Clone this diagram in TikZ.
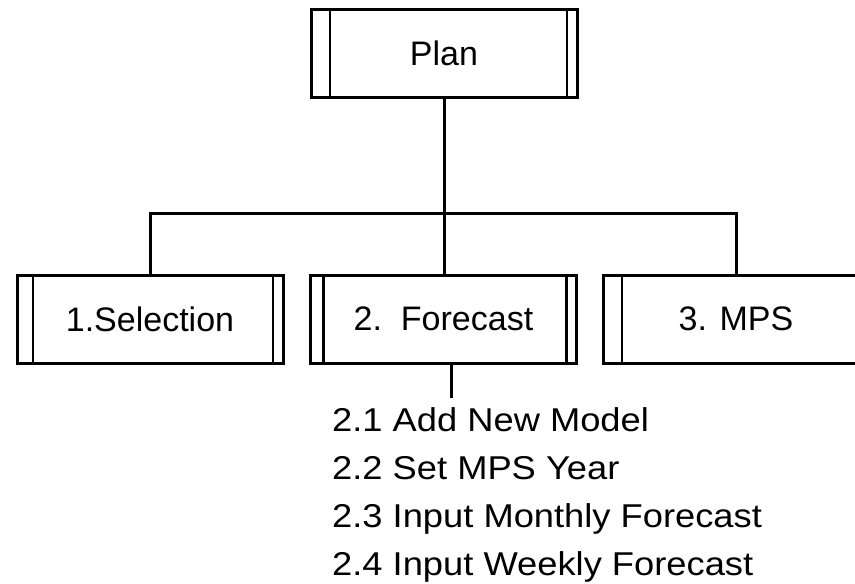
\documentclass[tikz,border=0pt]{standalone}
\usepackage{fontspec}
\setmainfont{Liberation Sans}
\newfontfamily\listfont[FakeStretch=1.1]{Liberation Sans}
\usetikzlibrary{positioning}

\begin{document}
\begin{tikzpicture}[
    x=1pt, y=-1pt,
    % Module box with a bar at each end
    module/.style={
        rectangle,
        draw=black,
        line width=3pt,
        inner sep=0pt,
        minimum width=266pt,
        minimum height=88pt,
        font=\fontsize{34}{40}\selectfont,
        path picture={
            \draw[line width=2.5pt]
                ([xshift=#1]path picture bounding box.north west) --
                ([xshift=#1]path picture bounding box.south west)
                ([xshift=-10pt]path picture bounding box.north east) --
                ([xshift=-10pt]path picture bounding box.south east);
        }
    },
    module/.default=17pt,
    % Connector style
    link/.style={
        line width=3pt
    },
    % Sub-item list style
    items/.style={
        align=left,
        inner sep=0pt,
        font=\listfont\fontsize{33}{48}\selectfont
    }
]

\useasboundingbox (0,0) rectangle (855,584);
\clip (0,0) rectangle (855,584);

% === Top module ===
\node[module=19pt] (plan) at (444,53.5) {Plan};

% === Second level ===
\node[module=16pt] (sel) at (150,319) {1.Selection};
\node[module=13pt] (fore) at (443.5,319) {2.\ \ Forecast};
\node[module=19pt] (mps) at (736,319) {3. MPS};

% === Connectors ===
\coordinate (bus) at (444,213);
\draw[link] (plan.south) -- (plan.south |- fore.north);
\draw[link] (sel.north) |- (bus) -| (mps.north);

% === Sub-items of Forecast ===
\coordinate (sub) at (451,398);
\draw[link] (fore.south -| sub) -- (sub);
\node[items, anchor=north west] (list) at (332,407)
    {2.1 Add New Model\\2.2 Set MPS Year\\2.3 Input Monthly Forecast\\2.4 Input Weekly Forecast};

\end{tikzpicture}
\end{document}
